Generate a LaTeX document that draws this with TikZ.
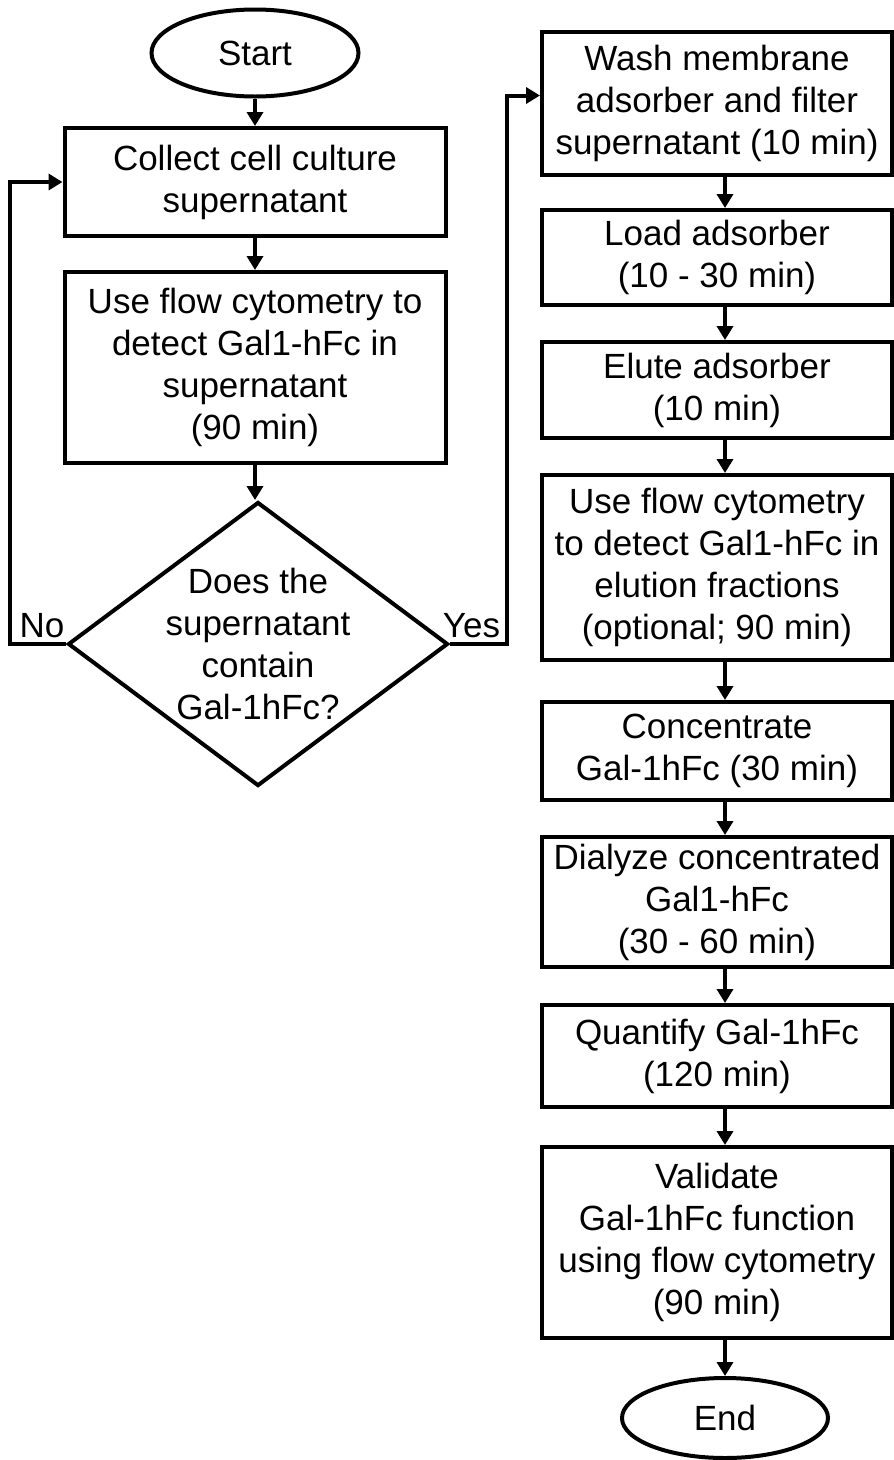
\documentclass[tikz,border=0pt]{standalone}
\usepackage{fontspec}
\setmainfont{Liberation Sans}
\usetikzlibrary{shapes.geometric,arrows.meta}
\tikzset{
	texte/.style={font=\fontsize{35}{42}\selectfont, align=center, inner sep=0pt},
	boite/.style={draw, line width=4pt, rectangle, texte, minimum width=381pt},
	boited/.style={boite, minimum width=350pt},
	terminal/.style={draw, line width=4pt, ellipse, texte},
	decision/.style={draw, line width=4pt, diamond, inner sep=0pt, minimum width=380pt, minimum height=284pt},
	reponse/.style={texte, above, inner sep=4pt},
	fleche/.style={line width=4pt, -{Triangle[length=14pt,width=16pt]}}
}
\begin{document}
\begin{tikzpicture}[x=1pt, y=-1pt]
		\useasboundingbox (0,0) rectangle (894,1460);
		
		% colonne de gauche
		\node [terminal, minimum width=207pt, minimum height=87pt] (debut) at (255,53) {Start};
		\node [boite, minimum height=108pt] (collecte) at (255,182) {Collect cell culture\\supernatant};
		\node [boite, minimum height=191pt] (detection) at (255,367.5) {Use flow cytometry to\\detect Gal1-hFc in\\supernatant\\(90 min)};
		\node [decision, label={[texte]center:Does the\\supernatant\\contain\\Gal-1hFc?}] (test) at (258,644) {};
		
		% colonne de droite
		\node [boited, minimum height=143pt] (lavage) at (717,103.5) {Wash membrane\\adsorber and filter\\supernatant (10 min)};
		\node [boited, minimum height=95pt] (charge) at (717,257.5) {Load adsorber\\(10 - 30 min)};
		\node [boited, minimum height=96pt] (elution) at (717,390) {Elute adsorber\\(10 min)};
		\node [boited, minimum height=185pt] (controle) at (717,567.5) {Use flow cytometry\\to detect Gal1-hFc in\\elution fractions\\(optional; 90 min)};
		\node [boited, minimum height=98pt] (concentre) at (717,751) {Concentrate\\Gal-1hFc (30 min)};
		\node [boited, minimum height=130pt] (dialyse) at (717,902) {Dialyze concentrated\\Gal1-hFc\\(30 - 60 min)};
		\node [boited, minimum height=102pt] (dosage) at (717,1056) {Quantify Gal-1hFc\\(120 min)};
		\node [boited, minimum height=191pt] (validation) at (717,1242.5) {Validate\\Gal-1hFc function\\using flow cytometry\\(90 min)};
		\node [terminal, minimum width=206pt, minimum height=80pt] (fin) at (725,1418) {End};
		
		% fleches
		\draw [fleche] (debut.south) -- (debut.south |- collecte.north);
		\draw [fleche] (collecte.south) -- (detection.north);
		\draw [fleche] (detection.south) -- (detection.south |- test.north);
		\draw [fleche] (test.west) -- node [reponse, xshift=4pt] {No} ++(-56,0) |- (collecte.west);
		\draw [fleche] (test.east) -- node [reponse, xshift=-7pt] {Yes} ++(57,0) |- ([yshift=8pt]lavage.west);
		\foreach \a/\b in {lavage/charge, charge/elution, elution/controle, controle/concentre, concentre/dialyse, dialyse/dosage, dosage/validation}
			\draw [fleche] (\a.south -| fin) -- (\b.north -| fin);
		\draw [fleche] (validation.south -| fin) -- (fin.north);
		
\end{tikzpicture}
\end{document}
